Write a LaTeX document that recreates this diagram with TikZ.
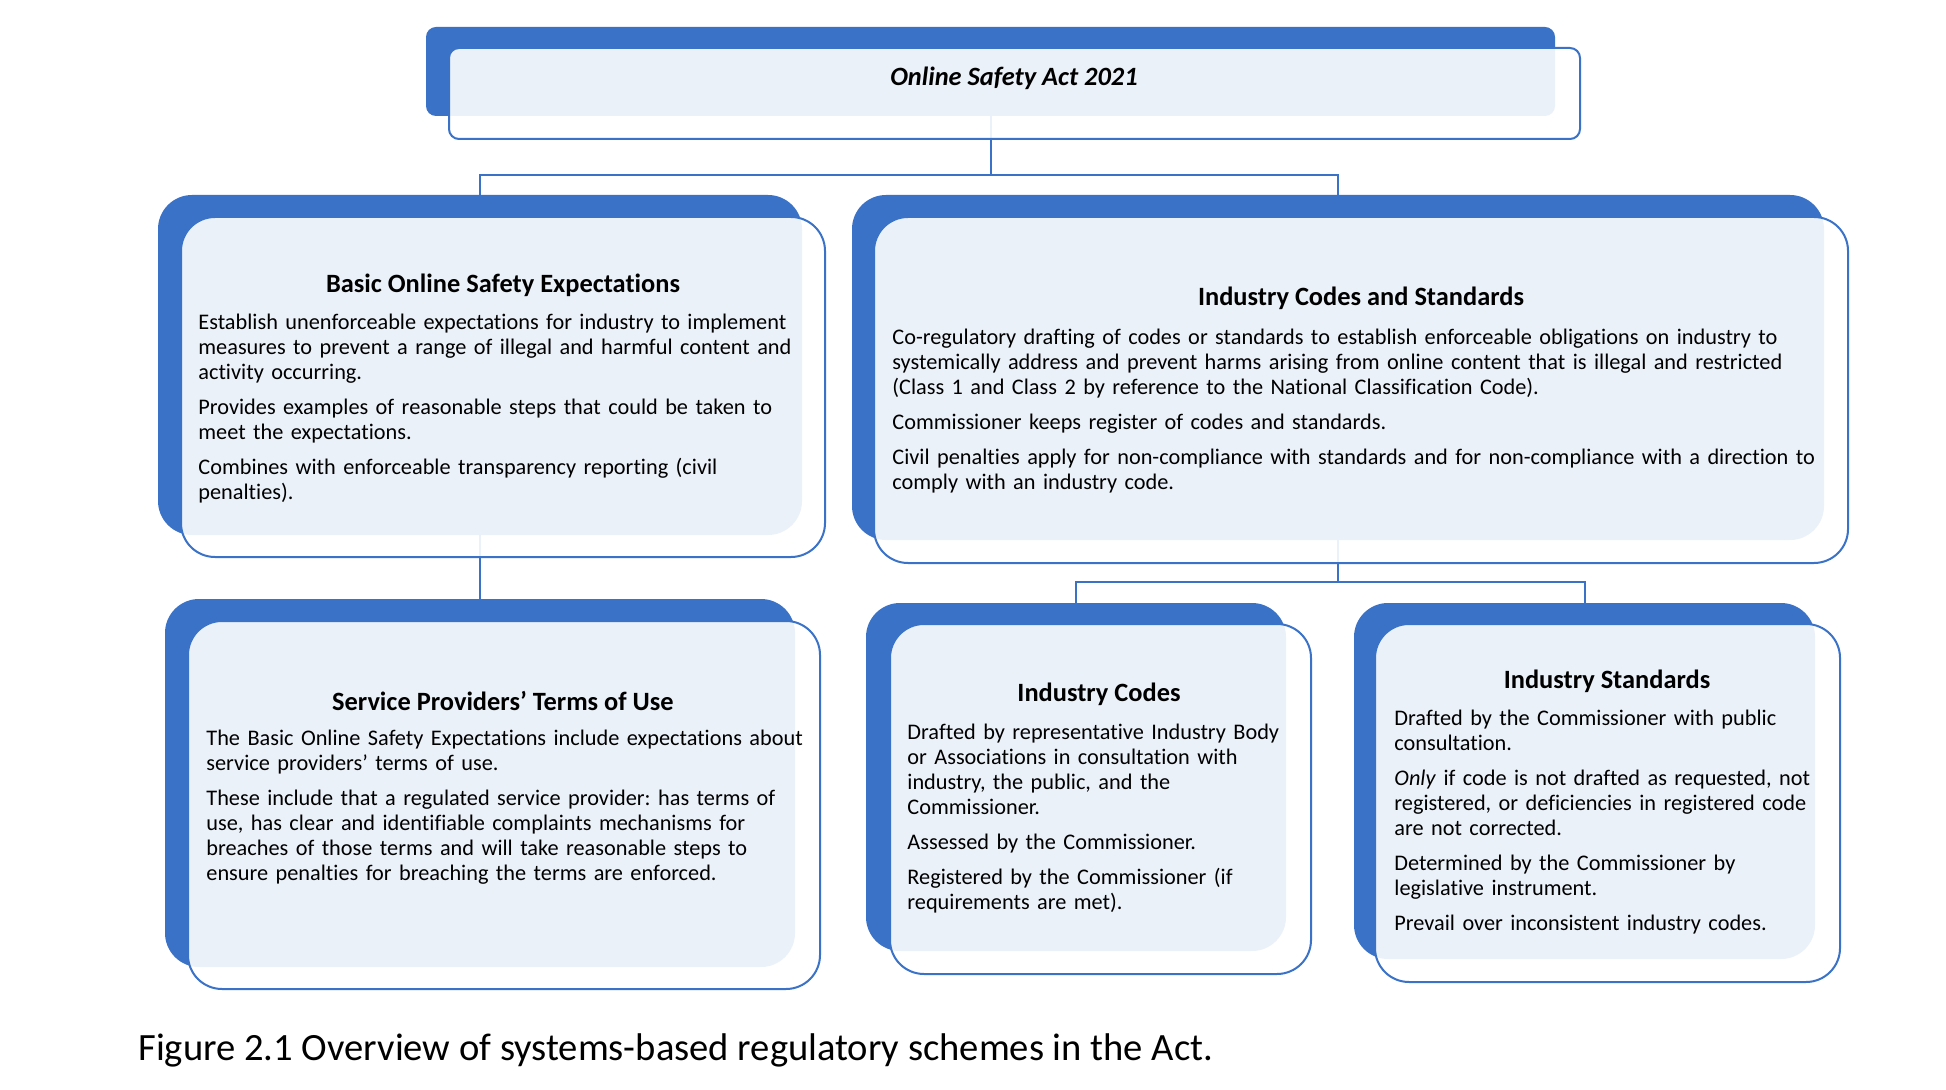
\documentclass[tikz,border=0pt]{standalone}
\usepackage{fontspec}
\setmainfont{Carlito}[Ligatures=NoCommon]
\usetikzlibrary{calc}
\definecolor{smblue}{RGB}{58,114,200}
\frenchspacing
\begin{document}
\begin{tikzpicture}[x=0.5pt,y=-0.5pt,
  backbox/.style={fill=smblue, draw=none, rounded corners=17pt, inner sep=0pt, outer sep=0pt},
  frontbox/.style={fill=white, fill opacity=0.9, draw=smblue, draw opacity=1, line width=1pt, rounded corners=17pt, inner sep=0pt, outer sep=0pt},
  conn/.style={draw=smblue, line width=1pt},
  ttl/.style={font=\fontsize{13.2}{15}\selectfont\bfseries, inner sep=0pt},
  body/.style={font=\fontsize{11.15}{12.5}\selectfont, inner sep=0pt, anchor=north west, align=left, text width=480pt},
]
\useasboundingbox (0,0) rectangle (1946,1090);
\fill[white] (0,0) rectangle (1946,1090);

% helper coordinates for buses
\coordinate (busA) at (0,175);
\coordinate (busB) at (0,582);

% back boxes (positions only, drawn later)
\path node[minimum width=564.5pt, minimum height=44.5pt, inner sep=0pt, outer sep=0pt] (topB) at (990.5,71.5) {};
\path node[minimum width=322pt, minimum height=170pt, inner sep=0pt, outer sep=0pt] (boseB) at (480,365) {};
\path node[minimum width=486pt, minimum height=172.5pt, inner sep=0pt, outer sep=0pt] (icsB) at (1338,367.5) {};
\path node[minimum width=315pt, minimum height=184pt, inner sep=0pt, outer sep=0pt] (sptuB) at (480,783) {};
\path node[minimum width=210pt, minimum height=174pt, inner sep=0pt, outer sep=0pt] (icB) at (1076,777) {};
\path node[minimum width=230.5pt, minimum height=178pt, inner sep=0pt, outer sep=0pt] (isB) at (1584.5,781) {};

% connectors (behind boxes)
\draw[conn] (topB.south) -- (topB.south |- busA);
\draw[conn] (boseB.north) |- (icsB.north |- busA) -- (icsB.north);
\draw[conn] (boseB.south) -- (sptuB.north);
\draw[conn] (icsB.south) -- (icsB.south |- busB);
\draw[conn] (icB.north) |- (isB.north |- busB) -- (isB.north);

% top box
\node[backbox, rounded corners=5pt, minimum width=564.5pt, minimum height=44.5pt] (topBk) at (topB) {};
\node[frontbox, rounded corners=5pt, minimum width=565.5pt, minimum height=45.5pt] (topF) at (1014.5,93.5) {};
\node[ttl, font=\fontsize{13.2}{15}\selectfont\bfseries\itshape] (topT) at (1014,78) {Online Safety Act 2021};

% BOSE
\node[backbox, minimum width=322pt, minimum height=170pt] (boseBk) at (boseB) {};
\node[frontbox, minimum width=322pt, minimum height=170pt] (boseF) at (503,387) {};
\node[ttl] (boseT) at (503,285) {Basic Online Safety Expectations};
\node[body] (boseX) at (198,314) {Establish unenforceable expectations for industry to implement\\
measures to prevent a range of illegal and harmful content and\\
activity occurring.\\[5pt]
Provides examples of reasonable steps that could be taken to\\
meet the expectations.\\[5pt]
Combines with enforceable transparency reporting (civil\\
penalties).};

% ICS
\node[backbox, minimum width=486pt, minimum height=172.5pt] (icsBk) at (icsB) {};
\node[frontbox, minimum width=487pt, minimum height=173pt] (icsF) at (1361,390) {};
\node[ttl] (icsT) at (1361,298) {Industry Codes and Standards};
\node[body] (icsX) at (892,329) {Co-regulatory drafting of codes or standards to establish enforceable obligations on industry to\\
systemically address and prevent harms arising from online content that is illegal and restricted\\
(Class 1 and Class 2 by reference to the National Classification Code).\\[5pt]
Commissioner keeps register of codes and standards.\\[5pt]
Civil penalties apply for non-compliance with standards and for non-compliance with a direction to\\
comply with an industry code.};

% SPTU
\node[backbox, minimum width=315pt, minimum height=184pt] (sptuBk) at (sptuB) {};
\node[frontbox, minimum width=316pt, minimum height=184pt] (sptuF) at (504,805) {};
\node[ttl] (sptuT) at (503,701) {Service Providers’ Terms of Use};
\node[body] (sptuX) at (206,730) {The Basic Online Safety Expectations include expectations about\\
service providers’ terms of use.\\[5pt]
These include that a regulated service provider: has terms of\\
use, has clear and identifiable complaints mechanisms for\\
breaches of those terms and will take reasonable steps to\\
ensure penalties for breaching the terms are enforced.};

% IC
\node[backbox, minimum width=210pt, minimum height=174pt] (icBk) at (icB) {};
\node[frontbox, minimum width=210.5pt, minimum height=175pt] (icF) at (1100.5,799) {};
\node[ttl] (icT) at (1099,694) {Industry Codes};
\node[body] (icX) at (907,724) {Drafted by representative Industry Body\\
or Associations in consultation with\\
industry, the public, and the\\
Commissioner.\\[5pt]
Assessed by the Commissioner.\\[5pt]
Registered by the Commissioner (if\\
requirements are met).};

% IS
\node[backbox, minimum width=230.5pt, minimum height=178pt] (isBk) at (isB) {};
\node[frontbox, minimum width=232.5pt, minimum height=179pt] (isF) at (1607.5,803) {};
\node[ttl] (isT) at (1607,681) {Industry Standards};
\node[body] (isX) at (1394,710) {Drafted by the Commissioner with public\\
consultation.\\[5pt]
\textit{Only} if code is not drafted as requested, not\\
registered, or deficiencies in registered code\\
are not corrected.\\[5pt]
Determined by the Commissioner by\\
legislative instrument.\\[5pt]
Prevail over inconsistent industry codes.};

% caption
\node[anchor=west, inner sep=0pt, font=\fontsize{19.3}{23}\selectfont] (cap) at (138,1050) {Figure 2.1 Overview of systems-based regulatory schemes in the Act.};
\end{tikzpicture}
\end{document}
